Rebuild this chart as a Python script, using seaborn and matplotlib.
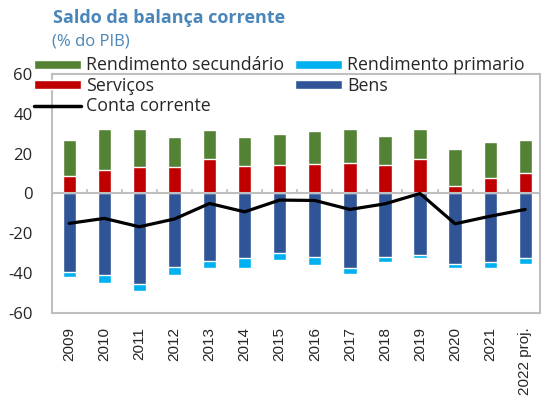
import numpy as np
import pandas as pd
import matplotlib
matplotlib.use("Agg")
import matplotlib.pyplot as plt
import seaborn as sns
from matplotlib.patches import Patch
from matplotlib.lines import Line2D

categories = ["2009", "2010", "2011", "2012", "2013", "2014", "2015",
              "2016", "2017", "2018", "2019", "2020", "2021", "2022 proj."]
servicos = [9, 12, 13.2, 13.2, 17.5, 13.7, 14.3, 14.8, 15.3, 14.2, 17.3, 4, 7.8, 10.5]
rend_secundario = [18, 20.3, 19.1, 15, 14.3, 14.5, 15.4, 16.4, 17, 14.5, 15, 18.2, 18, 16.5]
bens = [-39.3, -41, -45.3, -36.7, -33.7, -32.5, -29.8, -31.8, -37.2, -31.8, -30.8, -35.2, -34.2, -32.5]
rend_primario = [-2.7, -4, -3.7, -4.3, -3.6, -4.8, -3.7, -3.9, -3.3, -2.4, -1.7, -2.1, -3.1, -2.7]
conta_corrente = [-15, -12.5, -16.7, -12.8, -5, -9.2, -3.3, -3.5, -8, -5.2, 0, -15.2, -11.4, -8]

legend_labels = ["Rendimento secundário", "Rendimento primario", "Serviços", "Bens", "Conta corrente"]
title = "Saldo da balança corrente"
subtitle = "(% do PIB)"

c_green = "#548235"
c_cyan = "#00b0f0"
c_red = "#c00000"
c_blue = "#2f5597"
c_grid = "#bfbfbf"

sns.set_theme(style="white")
plt.rcParams["font.family"] = ["Open Sans", "DejaVu Sans"]
plt.rcParams["axes.unicode_minus"] = False

df = pd.DataFrame({
    "cat": categories,
    "pos_total": np.array(servicos) + np.array(rend_secundario),
    "serv": servicos,
    "neg_total": np.array(bens) + np.array(rend_primario),
    "bens": bens,
    "cc": conta_corrente,
})

fig = plt.figure(figsize=(5.42, 4.09), dpi=100)
ax = fig.add_axes([0.0959, 0.2347, 0.9004, 0.5844])

bw = 0.38
sns.barplot(data=df, x="cat", y="pos_total", color=c_green, width=bw, saturation=1, ax=ax, errorbar=None)
sns.barplot(data=df, x="cat", y="serv", color=c_red, width=bw, saturation=1, ax=ax, errorbar=None)
sns.barplot(data=df, x="cat", y="neg_total", color=c_cyan, width=bw, saturation=1, ax=ax, errorbar=None)
sns.barplot(data=df, x="cat", y="bens", color=c_blue, width=bw, saturation=1, ax=ax, errorbar=None)

# zero line and small ticks between categories
ax.axhline(0, color=c_grid, lw=1.5, zorder=3)
n = len(categories)
ax.vlines(np.arange(n - 1) + 0.5, 0, 2.5, color=c_grid, lw=1.2, zorder=3)

sns.pointplot(data=df, x="cat", y="cc", color="black", markers="", linestyles="-",
              errorbar=None, ax=ax, lw=2.3)
for l in ax.lines[-1:]:
    l.set_zorder(5)
    l.set_linewidth(2.3)

ax.set_xlim(-0.49, 13.42)
ax.set_ylim(-60, 60)
ax.set_yticks([-60, -40, -20, 0, 20, 40, 60])
ax.set_xlabel("")
ax.set_ylabel("")
for s in ax.spines.values():
    s.set_visible(True)
    s.set_color(c_grid)
    s.set_linewidth(1.5)
ax.tick_params(axis="y", direction="in", length=4, width=1.2, color=c_grid, pad=14,
               labelsize=12, labelcolor="#262626")
ax.tick_params(axis="x", length=0, pad=10, labelsize=11, labelcolor="#262626")
for t in ax.get_yticklabels():
    t.set_fontfamily(["Open Sans"])
for t in ax.get_xticklabels():
    t.set_rotation(90)
    t.set_fontfamily(["Liberation Sans"])
    t.set_va("top")
    t.set_ha("center")

patches = {
    "Rendimento secundário": Patch(facecolor=c_green),
    "Rendimento primario": Patch(facecolor=c_cyan),
    "Serviços": Patch(facecolor=c_red),
    "Bens": Patch(facecolor=c_blue),
    "Conta corrente": Line2D([], [], color="black", lw=2.5),
}
order = [legend_labels[0], legend_labels[2], legend_labels[4], legend_labels[1], legend_labels[3]]
leg = fig.legend([patches[k] for k in order], order, ncol=2, loc="upper left",
                 bbox_to_anchor=(0.063, 0.862), frameon=False, fontsize=12.8,
                 handlelength=2.65, handleheight=0.4, handletextpad=0.28,
                 columnspacing=0.6, labelspacing=0.14, borderpad=0, borderaxespad=0)
for t in leg.get_texts():
    t.set_color("#262626")

fig.text(0.098, 1 - 23 / 409, title, fontsize=13, fontweight="bold", color="#4a86b9",
         va="baseline", ha="left")
fig.text(0.096, 1 - 45 / 409, subtitle, fontsize=12, color="#4a86b9",
         va="baseline", ha="left")

fig.savefig("out.png", dpi=100)
